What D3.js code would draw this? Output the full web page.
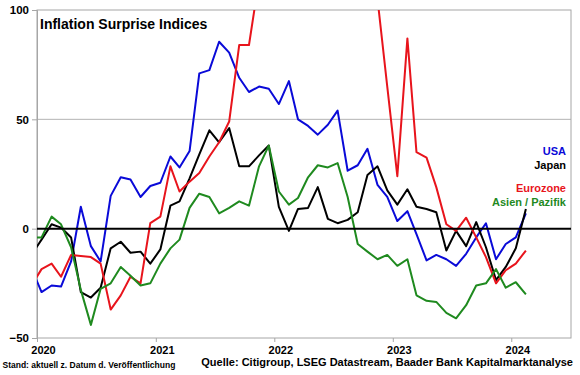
<!DOCTYPE html>
<html>
<head>
<meta charset="utf-8">
<script src="https://cdn.jsdelivr.net/npm/d3@7"></script>
<style>
  body { margin: 0; background: #fff; }
  svg { display: block; font-family: "Liberation Sans", Arial, sans-serif; font-weight: bold; }
</style>
</head>
<body>
<div id="chart"></div>
<script>
// monthly readings, Dec 2019 .. Feb 2024 (first point sits left of the axis and gets clipped)
const months = d3.timeMonth.range(new Date(2019, 11, 1), new Date(2024, 2, 1));
const usa = [-18,
  -29, -26, -26.5, -15, 10, -8, -15, 15, 23.5, 22.5, 14.5, 19.5,
  21, 33, 28, 35.5, 71, 72.5, 85.5, 80.5, 69, 62.5, 65, 64,
  57, 67.5, 50, 47, 43, 47.5, 54, 26.5, 29, 36.5, 20, 14.5,
  3.5, 8, -2.5, -14.5, -12, -14, -17, -11.5, -4, 2.5, -14, -7,
  -4, 7];
const japan = [-12,
  -5, 2, 0.5, -4, -29, -31.5, -27, -9, -6, -11, -10.5, -16,
  -9.5, 10.5, 12.5, 23, 34, 45, 39.5, 46, 28.5, 28.5, 33.5, 38,
  10, -1, 9, 9.5, 19, 4.5, 2.5, 4, 7.5, 24.5, 28.5, 17.5,
  11, 18, 10, 9, 7.5, -10, -1, -8, 3, -8.5, -23.5, -17.5,
  -9, 9];
const eurozone = [-26,
  -18.5, -16, -22, -12, -12.5, -13, -16, -37, -30.5, -22, -25, 2.5,
  5.5, 28.5, 17, 21.5, 25.5, 33, 39.5, 49, 84, 84, 114, 128,
  140, 152, 165, 175, 182, 178, 170, 160, 148, 130, 105, 65,
  24, 87, 35, 32.5, 19, 2, -1, 5, -4, -13, -25, -19,
  -16, -10];
const asiaPacific = [-4,
  -4, 5.5, 2, -8.5, -28, -44, -27.5, -25, -17.5, -21.5, -26, -25,
  -16, -9, -5, 9.5, 16, 14.5, 7, 9.5, 12.5, 10.5, 28.5, 38,
  17, 11, 14, 23.5, 29, 28, 30, 14.5, -7, -10.5, -14, -12,
  -17, -14, -30.5, -33, -33.5, -38.5, -41, -35, -26, -25, -18.5, -27,
  -24.5, -30];
const seriesNames = ["USA", "Japan", "Eurozone", "Asien / Pazifik"];
const seriesColors = ["#0a0ad8", "#000000", "#e8141c", "#1f8a1f"];
const yTicks = [-50, 0, 50, 100];
const xYears = [2020, 2021, 2022, 2023, 2024];

const W = 580, H = 375;
const plot = { left: 37, right: 571, top: 10, bottom: 338 };

const svg = d3.select("#chart").append("svg")
  .attr("width", W).attr("height", H);

const x = d3.scaleTime()
  .domain([new Date(2020, 0, 1), new Date(2024, 6, 3)])
  .range([plot.left, plot.right]);
const y = d3.scaleLinear().domain([-50, 100]).range([plot.bottom, plot.top]);

svg.append("defs").append("clipPath").attr("id", "plotclip")
  .append("rect")
  .attr("x", plot.left).attr("y", plot.top)
  .attr("width", plot.right - plot.left).attr("height", plot.bottom - plot.top);

// frame and the 50 gridline
svg.append("line")
  .attr("x1", plot.left).attr("x2", plot.right)
  .attr("y1", y(50)).attr("y2", y(50))
  .attr("stroke", "#b4b4b4").attr("stroke-width", 1);
svg.append("rect")
  .attr("x", plot.left).attr("y", plot.top)
  .attr("width", plot.right - plot.left).attr("height", plot.bottom - plot.top)
  .attr("fill", "none").attr("stroke", "#a6a6a6").attr("stroke-width", 1);

// y axis
const yAxis = svg.append("g")
  .attr("transform", `translate(${plot.left},0)`)
  .call(d3.axisLeft(y).tickValues(yTicks).tickSize(5).tickPadding(3));
yAxis.select(".domain").attr("stroke", "#a6a6a6");
yAxis.selectAll(".tick line").attr("stroke", "#a6a6a6");
yAxis.selectAll("text")
  .style("font-size", "11.5px").style("font-weight", "bold")
  .attr("fill", "#000");

// x axis
const xAxis = svg.append("g")
  .attr("transform", `translate(0,${plot.bottom})`)
  .call(d3.axisBottom(x)
    .tickValues(xYears.map(yr => new Date(yr, 0, 1)))
    .tickFormat(d3.timeFormat("%Y"))
    .tickSize(4).tickPadding(4));
xAxis.select(".domain").remove();
xAxis.selectAll(".tick line").attr("stroke", "#a6a6a6");
xAxis.selectAll("text")
  .attr("dx", 6)
  .style("font-size", "11px").style("font-weight", "bold")
  .attr("fill", "#000");

// lines
const line = d3.line()
  .x((d, i) => x(new Date(months[i].getFullYear(), months[i].getMonth(), 15)))
  .y(d => y(d));

const lines = svg.append("g").attr("clip-path", "url(#plotclip)");
[usa, japan, eurozone, asiaPacific].forEach((vals, k) => {
  lines.append("path")
    .datum(vals)
    .attr("fill", "none")
    .attr("stroke", seriesColors[k])
    .attr("stroke-width", 2)
    .attr("stroke-linejoin", "round")
    .attr("d", line);
});

// zero line on top
svg.append("line")
  .attr("x1", plot.left).attr("x2", plot.right)
  .attr("y1", y(0)).attr("y2", y(0))
  .attr("stroke", "#000").attr("stroke-width", 2);

// title
svg.append("text")
  .attr("x", 40).attr("y", 28.5)
  .style("font-size", "14px")
  .text("Inflation Surprise Indices");

// legend
const legendY = [155, 168.5, 191.5, 205.5];
seriesNames.forEach((name, k) => {
  svg.append("text")
    .attr("x", 566).attr("y", legendY[k])
    .attr("text-anchor", "end")
    .attr("fill", seriesColors[k])
    .style("font-size", "11px")
    .text(name);
});

// footer
svg.append("text")
  .attr("x", 2.5).attr("y", 367.5)
  .style("font-size", "8.5px")
  .text("Stand: aktuell z. Datum d. Veröffentlichung");
svg.append("text")
  .attr("x", 573).attr("y", 366)
  .attr("text-anchor", "end")
  .style("font-size", "11px")
  .text("Quelle: Citigroup, LSEG Datastream, Baader Bank Kapitalmarktanalyse");
</script>
</body>
</html>
